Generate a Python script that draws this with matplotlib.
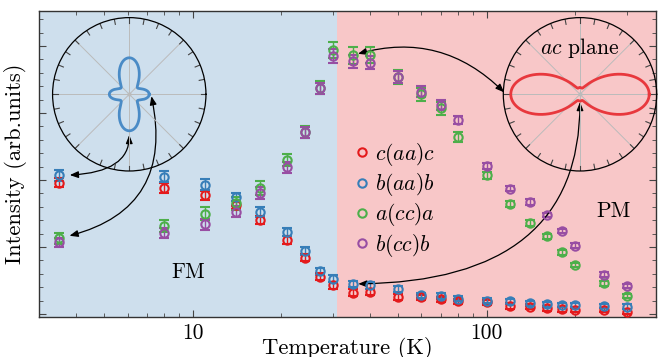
import numpy as np
import matplotlib
matplotlib.use('Agg')
import matplotlib.pyplot as plt
from matplotlib.lines import Line2D
from matplotlib.ticker import FixedLocator, FixedFormatter, NullFormatter, MultipleLocator

plt.rcParams['font.family'] = 'cmr10'
plt.rcParams['mathtext.fontset'] = 'cm'
plt.rcParams['axes.formatter.use_mathtext'] = True
plt.rcParams['font.size'] = 15.5

# temperatures (K)
temps = [3.5, 8, 11, 14, 17, 21, 24, 27, 30, 35, 40, 50, 60, 70, 80,
         100, 120, 140, 160, 180, 200, 250, 300]

# intensities (arb. units)
c_aa_c = [1.96, 1.88, 1.77, 1.63, 1.40, 1.10, 0.84, 0.56, 0.43, 0.32, 0.33, 0.26,
          0.25, 0.22, 0.19, 0.175, 0.12, 0.11, 0.085, 0.07, 0.06, 0.06, 0.035]
b_aa_b = [2.07, 2.05, 1.93, 1.75, 1.52, 1.23, 0.94, 0.64, 0.53, 0.45, 0.43, 0.38,
          0.28, 0.27, 0.23, 0.20, 0.19, 0.16, 0.145, 0.134, 0.134, 0.12, 0.11]
a_cc_a = [1.13, 1.31, 1.50, 1.65, 1.88, 2.30, 2.72, 3.38, 3.94, 3.86, 3.86, 3.54,
          3.28, 3.07, 2.64, 2.07, 1.64, 1.36, 1.16, 0.92, 0.73, 0.46, 0.27]
b_cc_b = [1.07, 1.21, 1.34, 1.53, 1.80, 2.19, 2.71, 3.37, 3.85, 3.77, 3.75, 3.54,
          3.32, 3.12, 2.89, 2.21, 1.87, 1.67, 1.48, 1.24, 1.02, 0.59, 0.42]

c_aa_c_err = [0.07, 0.07, 0.07, 0.06, 0.06, 0.06, 0.05, 0.05, 0.05, 0.05, 0.05, 0.045,
              0.04, 0.04, 0.04, 0.04, 0.04, 0.035, 0.035, 0.035, 0.035, 0.035, 0.035]
b_aa_b_err = [0.08, 0.08, 0.08, 0.06, 0.07, 0.06, 0.06, 0.05, 0.05, 0.05, 0.05, 0.045,
              0.04, 0.04, 0.04, 0.04, 0.04, 0.035, 0.035, 0.035, 0.035, 0.035, 0.035]
a_cc_a_err = [0.08, 0.09, 0.09, 0.09, 0.10, 0.09, 0.09, 0.10, 0.12, 0.13, 0.12, 0.10,
              0.10, 0.10, 0.08, 0.05, 0.04, 0.04, 0.035, 0.035, 0.035, 0.035, 0.035]
b_cc_b_err = [0.07, 0.08, 0.08, 0.08, 0.09, 0.08, 0.08, 0.08, 0.10, 0.10, 0.10, 0.09,
              0.08, 0.08, 0.06, 0.05, 0.04, 0.04, 0.035, 0.035, 0.035, 0.035, 0.035]

labels = ['$c(aa)c$', '$b(aa)b$', '$a(cc)a$', '$b(cc)b$']
colors = ['#e41a1c', '#377eb8', '#4daf4a', '#984ea3']

T_c = 31          # FM / PM boundary
T_min, T_max = 3, 378

# polar-pattern parameters (tensor amplitudes a, c and relative phase)
fm_a, fm_c, fm_phi = 0.51, 0.69, np.radians(101.5)
pm_a, pm_c, pm_phi = 0.95, 0.30, np.radians(87)

fig = plt.figure(figsize=(6.58, 3.57), dpi=100)
ax = fig.add_axes([0.0593, 0.1134, 0.9384, 0.8557])

ax.axvspan(T_min, T_c, color='#cedfed', lw=0, zorder=0)
ax.axvspan(T_c, T_max, color='#f8c7c8', lw=0, zorder=0)

series = [(c_aa_c, c_aa_c_err), (b_aa_b, b_aa_b_err),
          (a_cc_a, a_cc_a_err), (b_cc_b, b_cc_b_err)]
for (vals, errs), col in zip(series, colors):
    ax.errorbar(temps, vals, yerr=errs, fmt='o', mfc='none', mec=col, ms=6,
                mew=1.5, ecolor=col, elinewidth=1.0, capsize=3.5, capthick=1.0,
                zorder=3)

ax.set_xscale('log')
ax.set_xlim(T_min, T_max)
ax.set_ylim(-0.037, 4.522)
ax.xaxis.set_major_locator(FixedLocator([10, 100]))
ax.xaxis.set_major_formatter(FixedFormatter(['10', '100']))
ax.xaxis.set_minor_locator(FixedLocator([3, 4, 5, 6, 7, 8, 9, 20, 30, 40, 50, 60,
                                         70, 80, 90, 200, 300]))
ax.xaxis.set_minor_formatter(NullFormatter())
ax.yaxis.set_major_locator(MultipleLocator(1))
ax.yaxis.set_minor_locator(MultipleLocator(0.2))
ax.set_yticklabels([])
ax.tick_params(which='both', direction='in', top=True, right=True, color='#444444')
ax.tick_params(which='major', length=5, width=0.8, pad=5)
ax.tick_params(which='minor', length=3, width=0.6)
for s in ax.spines.values():
    s.set_color('#333333')
    s.set_linewidth(1.0)

ax.set_xlabel('Temperature (K)', fontsize=16.3, labelpad=-4)
ax.set_ylabel('Intensity (arb.units)', fontsize=16.3, labelpad=4)

ax.text(9.67, 0.63, 'FM', ha='center', va='center')
ax.text(271, 1.53, 'PM', ha='center', va='center')

handles = [Line2D([], [], ls='none', marker='o', mfc='none', mec=c, ms=6, mew=1.5)
           for c in colors]
ax.legend(handles, labels, loc='upper left', bbox_to_anchor=(0.512, 0.575),
          frameon=False, handlelength=0.6, handletextpad=0.3, labelspacing=0.15,
          borderpad=0, borderaxespad=0)


def polar_inset(rect, a, c, phi, color):
    ax_p = fig.add_axes(rect, projection='polar')
    ax_p.set_facecolor('none')
    ax_p.set_ylim(0, 1)
    ax_p.set_yticks([])
    ax_p.set_xticks(np.radians(np.arange(0, 360, 45)))
    ax_p.set_xticklabels([])
    ax_p.tick_params(length=0)
    ax_p.grid(True, color='#bbbbbb', lw=0.7)
    ax_p.set_axisbelow(True)
    ax_p.spines['polar'].set_color('black')
    ax_p.spines['polar'].set_linewidth(0.9)
    for t in np.radians(np.arange(0, 360, 11.25)):
        ax_p.plot([t, t], [0.93, 1.0], color='#444444', lw=0.8)
    th = np.linspace(0, 2 * np.pi, 721)
    cs, sn = np.cos(th) ** 2, np.sin(th) ** 2
    r = a ** 2 * cs ** 2 + c ** 2 * sn ** 2 + 2 * a * c * np.cos(phi) * sn * cs
    ax_p.plot(th, r, color=color, lw=2.0)
    ax_p.plot(0, 0, 'o', ms=2, color='#bbbbbb')
    return ax_p


ax_fm = polar_inset([0.0799, 0.521, 0.2331, 0.4297], fm_a, fm_c, fm_phi, '#4a8bc6')
ax_pm = polar_inset([0.7649, 0.521, 0.2331, 0.4297], pm_a, pm_c, pm_phi, '#e8383d')
ax_pm.text(np.pi / 2, 0.61, '$ac$ plane', ha='center', va='center')

arrow = dict(arrowstyle='<|-|>,head_length=0.5,head_width=0.2', color='black',
             lw=0.9, mutation_scale=10)

ax.annotate('', xy=(temps[0], b_aa_b[0]), xytext=(np.radians(-90), 0.53),
            textcoords=ax_fm.transData,
            arrowprops=dict(arrow, shrinkA=0, shrinkB=8,
                            connectionstyle='angle3,angleA=90,angleB=0'))
ax.annotate('', xy=(temps[0], a_cc_a[0]), xytext=(np.radians(-5), 0.29),
            textcoords=ax_fm.transData,
            arrowprops=dict(arrow, shrinkA=0, shrinkB=8,
                            connectionstyle='arc3,rad=-0.5'))
ax.annotate('', xy=(temps[9], a_cc_a[9]), xytext=(np.radians(178.5), 0.99),
            textcoords=ax_pm.transData,
            arrowprops=dict(arrow, shrinkA=0, shrinkB=4,
                            connectionstyle='arc3,rad=0.3'))
ax.annotate('', xy=(temps[9], b_aa_b[9]), xytext=(np.radians(-90), 0.1),
            textcoords=ax_pm.transData,
            arrowprops=dict(arrow, shrinkA=0, shrinkB=4,
                            connectionstyle='angle3,angleA=90,angleB=0'))

fig.savefig('out.png', dpi=100)
